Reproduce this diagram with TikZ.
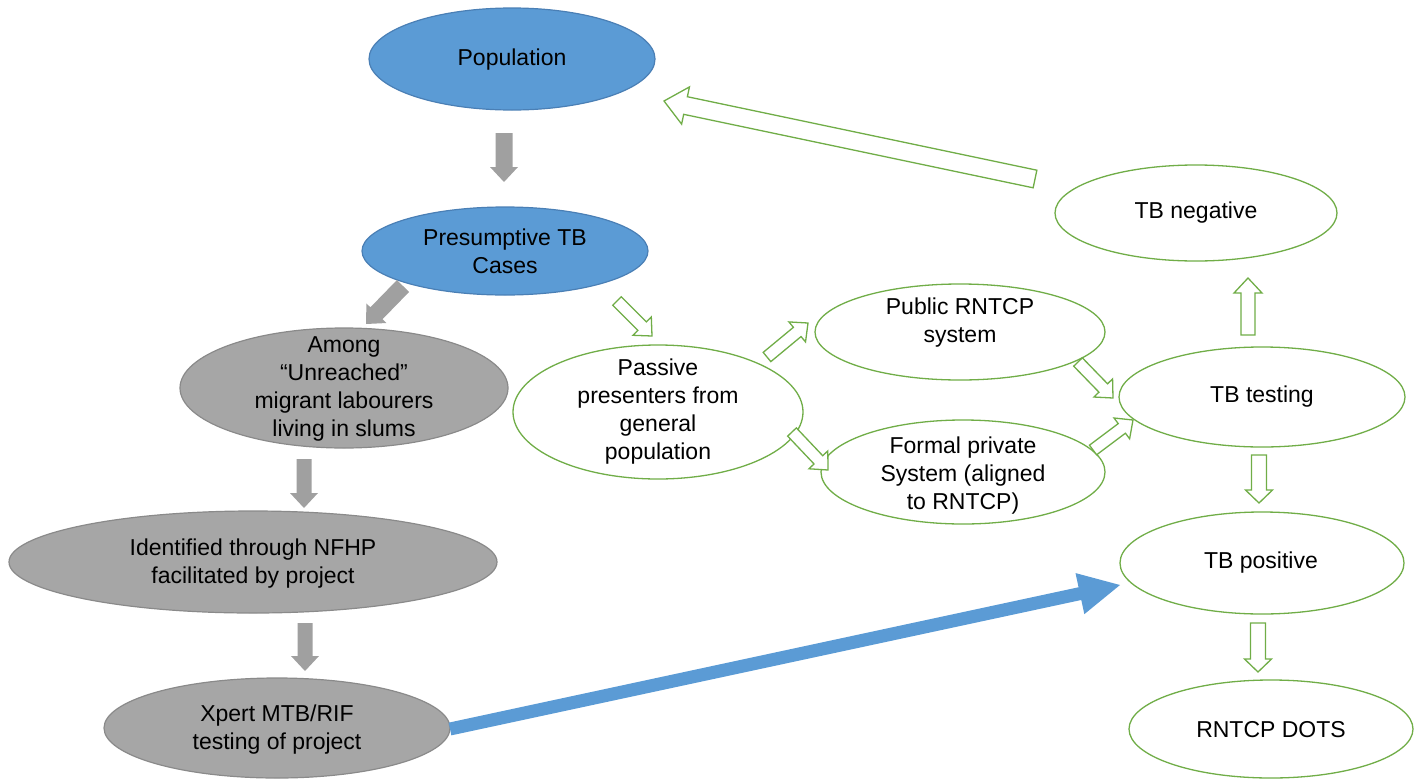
\documentclass[tikz,border=0pt]{standalone}
\usepackage{fontspec}
\setmainfont{Liberation Sans}
\usetikzlibrary{shapes.geometric,calc}
\definecolor{bfill}{HTML}{5B9BD5}
\definecolor{bdraw}{HTML}{4A7FB5}
\definecolor{gfill}{HTML}{A6A6A6}
\definecolor{gdraw}{HTML}{8A8A8A}
\definecolor{grn}{HTML}{70AD47}
\definecolor{garrow}{HTML}{A0A0A0}
% block arrow: #1 style, #2 tail, #3 tip, #4 shaft half width, #5 head half width, #6 head length
\newcommand{\blockarr}[6]{%
  \coordinate (hb) at ($(#3)!#6!(#2)$);
  \path[#1] ($(#2)!#4!90:(#3)$) -- ($(hb)!#4!-90:(#2)$) -- ($(hb)!#5!-90:(#2)$) -- (#3)
    -- ($(hb)!#5!90:(#2)$) -- ($(hb)!#4!90:(#2)$) -- ($(#2)!#4!-90:(#3)$) -- cycle;}
\begin{document}
\begin{tikzpicture}[x=1pt,y=-1pt,
  ell/.style={ellipse, inner sep=0pt},
  bell/.style={ell, fill=bfill, draw=bdraw, line width=1.2pt},
  gell/.style={ell, fill=gfill, draw=gdraw, line width=1.2pt},
  wel/.style={ell, fill=white, draw=grn, line width=1.3pt},
  txt/.style={align=center, inner sep=0pt, font=\fontsize{23}{28}\selectfont},
  garr/.style={fill=garrow},
  harr/.style={draw=grn, line width=1.3pt, fill=white, line join=miter},
  barr/.style={fill=bfill}]
\useasboundingbox (0,0) rectangle (1419,782);
% ellipses
\node[bell, minimum width=286pt, minimum height=102pt] (pop) at (512,59) {};
\node[bell, minimum width=286pt, minimum height=88pt] (pres) at (505,251) {};
\node[gell, minimum width=328pt, minimum height=120pt] (among) at (344,388) {};
\node[gell, minimum width=488pt, minimum height=102pt] (ident) at (253,562) {};
\node[gell, minimum width=346pt, minimum height=100pt] (xpert) at (277,728) {};
\node[wel, minimum width=290pt, minimum height=134pt] (passive) at (658,412) {};
\node[wel, minimum width=290pt, minimum height=96pt] (public) at (960,332) {};
\node[wel, minimum width=284pt, minimum height=104pt] (formal) at (963,472) {};
\node[wel, minimum width=286pt, minimum height=100pt] (testing) at (1262,397) {};
\node[wel, minimum width=282pt, minimum height=96pt] (neg) at (1196,213) {};
\node[wel, minimum width=284pt, minimum height=102pt] (pos) at (1262,563) {};
\node[wel, minimum width=284pt, minimum height=98pt] (dots) at (1271,729) {};
% texts
\node[txt] (t-pop) at (512,60) {Population};
\node[txt] (t-pres) at (505,251) {Presumptive TB\\Cases};
\node[txt] (t-among) at (344,389) {Among\\“Unreached”\\migrant labourers\\living in slums};
\node[txt] (t-ident) at (253,564) {Identified through NFHP\\facilitated by project};
\node[txt] (t-xpert) at (277,730) {Xpert MTB/RIF\\testing of project};
\node[txt] (t-passive) at (658,412) {Passive\\presenters from\\general\\population};
\node[txt] (t-public) at (960,323) {Public RNTCP\\system};
\node[txt] (t-formal) at (963,476) {Formal private\\System (aligned\\to RNTCP)};
\node[txt] (t-testing) at (1262,397) {TB testing};
\node[txt] (t-neg) at (1196,213) {TB negative};
\node[txt] (t-pos) at (1261,563) {TB positive};
\node[txt] (t-dots) at (1271,730) {RNTCP DOTS};
% connector end points
\coordinate (a1s) at (504,133); \coordinate (a1e) at (504,182);
\coordinate (a2s) at (403,286); \coordinate (a2e) at (366,324);
\coordinate (a3s) at (304,459); \coordinate (a3e) at (304,508);
\coordinate (a4s) at (305,623); \coordinate (a4e) at (305,671);
\coordinate (b1s) at (617,301); \coordinate (b1e) at (652,336);
\coordinate (b2s) at (767,357); \coordinate (b2e) at (808,323);
\coordinate (b3s) at (792,432); \coordinate (b3e) at (828,470);
\coordinate (b4s) at (1078,362); \coordinate (b4e) at (1113,398);
\coordinate (b5s) at (1093,450); \coordinate (b5e) at (1133,420);
\coordinate (b6s) at (1248,335); \coordinate (b6e) at (1248,278);
\coordinate (b7s) at (1259,455); \coordinate (b7e) at (1259,503);
\coordinate (b8s) at (1258,623); \coordinate (b8e) at (1258,672);
\coordinate (c1s) at (1035,179); \coordinate (c1e) at (664,101);
\coordinate (d1s) at (450,729); \coordinate (d1e) at (1120,585);
% gray arrows
\blockarr{garr}{a1s}{a1e}{8.5pt}{14pt}{15pt}
\blockarr{garr}{a2s}{a2e}{8.5pt}{14pt}{15pt}
\blockarr{garr}{a3s}{a3e}{7.5pt}{14pt}{15pt}
\blockarr{garr}{a4s}{a4e}{7.5pt}{14pt}{15pt}
% green hollow arrows
\blockarr{harr}{b1s}{b1e}{6pt}{13pt}{14pt}
\blockarr{harr}{b2s}{b2e}{6pt}{13pt}{14pt}
\blockarr{harr}{b3s}{b3e}{6pt}{13pt}{14pt}
\blockarr{harr}{b4s}{b4e}{6pt}{13pt}{14pt}
\blockarr{harr}{b5s}{b5e}{6pt}{13pt}{14pt}
\blockarr{harr}{b6s}{b6e}{7pt}{14pt}{15pt}
\blockarr{harr}{b7s}{b7e}{7.5pt}{13.5pt}{13pt}
\blockarr{harr}{b8s}{b8e}{7.5pt}{13.5pt}{13pt}
\blockarr{harr}{c1s}{c1e}{9pt}{19pt}{22pt}
% blue arrow
\blockarr{barr}{d1s}{d1e}{6.5pt}{21pt}{41pt}
\end{tikzpicture}
\end{document}
